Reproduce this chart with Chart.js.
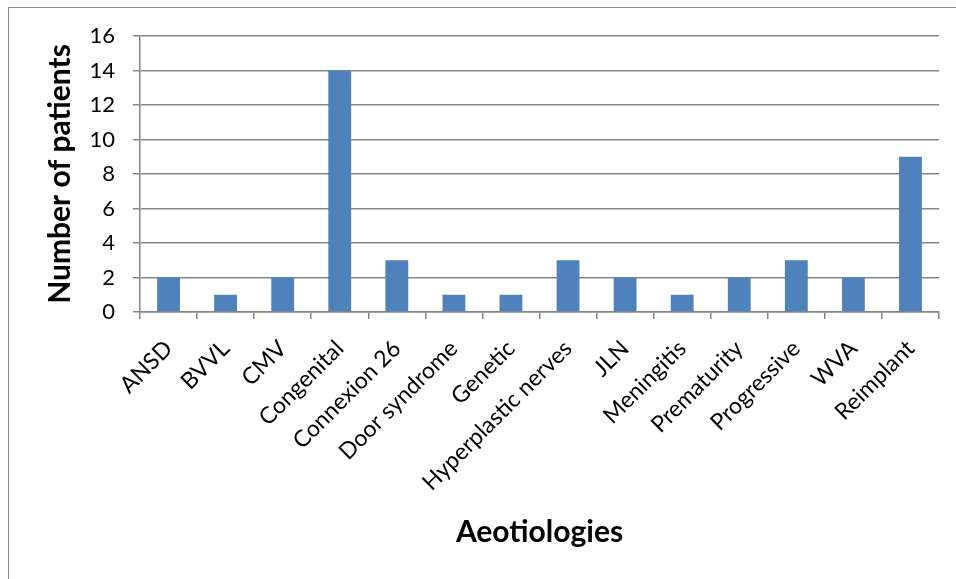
<!DOCTYPE html>
<html>
<head>
<meta charset="utf-8">
<script src="https://cdn.jsdelivr.net/npm/chart.js@4/dist/chart.umd.min.js"></script>
<style>
  body { margin: 0; background: #fff; overflow: hidden; }
  #frame { position: absolute; left: 8px; top: 7px; width: 1000px; height: 700px; border: 1px solid #8c8c8c; }
  #wrap { position: absolute; left: 0; top: 0; width: 956px; height: 579px; }
</style>
</head>
<body>
<div id="frame"></div>
<div id="wrap"><canvas id="myChart"></canvas></div>
<script>
const categories = ['ANSD', 'BVVL', 'CMV', 'Congenital', 'Connexion 26', 'Door syndrome', 'Genetic',
  'Hyperplastic nerves', 'JLN', 'Meningitis', 'Prematurity', 'Progressive', 'WVA', 'Reimplant'];
const patients = [2, 1, 2, 14, 3, 1, 1, 3, 2, 1, 2, 3, 2, 9];
const yTicks = [0, 2, 4, 6, 8, 10, 12, 14, 16];

const gridGrey = '#868686';
const font = 'Lato';

const renderChart = () => {
  const ctx = document.getElementById('myChart');
  new Chart(ctx, {
    type: 'bar',
    data: {
      labels: categories,
      datasets: [{
        label: 'Number of patients',
        data: patients,
        backgroundColor: '#4F81BD',
        borderWidth: 0,
        categoryPercentage: 1,
        barPercentage: 0.4
      }]
    },
    options: {
      responsive: true,
      maintainAspectRatio: false,
      animation: false,
      layout: { padding: { left: 28, top: 36, right: 17, bottom: 19 } },
      plugins: { legend: { display: false }, tooltip: { enabled: false } },
      scales: {
        x: {
          grid: { drawOnChartArea: false, drawTicks: true, tickLength: 7, color: gridGrey, lineWidth: 1.5, offset: true },
          border: { color: gridGrey, width: 1.5 },
          ticks: { color: '#000', font: { family: font, size: 23 }, minRotation: 45, maxRotation: 45, padding: 16, autoSkip: false },
          title: { display: true, text: 'Aeotiologies', color: '#000', font: { family: font, size: 30, weight: 'bold' }, padding: { top: 0, bottom: 10 } },
          afterFit: (scale) => { scale.height = 248; }
        },
        y: {
          min: 0,
          max: 16,
          afterBuildTicks: (scale) => { scale.ticks = yTicks.map(v => ({ value: v })); },
          grid: { color: gridGrey, lineWidth: 1.5, tickLength: 7 },
          border: { color: gridGrey, width: 1.5 },
          ticks: { color: '#000', font: { family: font, size: 22 }, padding: 18 },
          title: { display: true, text: 'Number of patients', color: '#000', font: { family: font, size: 30, weight: 'bold' }, padding: { top: 14, bottom: 0 } },
          afterFit: (scale) => { scale.width = 112; }
        }
      }
    }
  });
};
document.onload = renderChart();
</script>
</body>
</html>
